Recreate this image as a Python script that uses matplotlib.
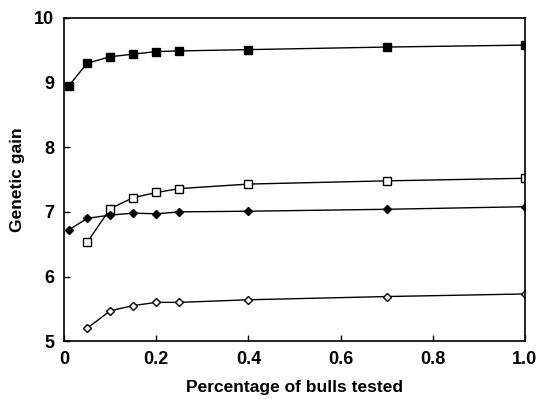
import matplotlib
matplotlib.use("Agg")
import matplotlib.pyplot as plt

x_full = [0.01, 0.05, 0.10, 0.15, 0.20, 0.25, 0.40, 0.70, 1.00]
x_part = [0.05, 0.10, 0.15, 0.20, 0.25, 0.40, 0.70, 1.00]

filled_square = [8.95, 9.30, 9.40, 9.44, 9.48, 9.49, 9.51, 9.55, 9.58]
open_square = [6.53, 7.05, 7.22, 7.30, 7.36, 7.43, 7.48, 7.52]
filled_diamond = [6.72, 6.90, 6.95, 6.98, 6.97, 7.00, 7.01, 7.04, 7.08]
open_diamond = [5.20, 5.47, 5.55, 5.60, 5.60, 5.64, 5.69, 5.73]

xticks = [0, 0.2, 0.4, 0.6, 0.8, 1.0]
xticklabels = ["0", "0.2", "0.4", "0.6", "0.8", "1.0"]
yticks = [5, 6, 7, 8, 9, 10]

plt.rcParams['font.family'] = ['Liberation Sans', 'DejaVu Sans']
fig = plt.figure(figsize=(5.39, 3.99), dpi=100)
ax = fig.add_axes([0.119, 0.145, 0.855, 0.81])

lw = 1.0
ax.plot(x_full, filled_square, color='black', lw=lw, marker='s', ms=5.5,
        mfc='black', mec='black')
ax.plot(x_part, open_square, color='black', lw=lw, marker='s', ms=5.5,
        mfc='white', mec='black', mew=1.0)
ax.plot(x_full, filled_diamond, color='black', lw=lw, marker='D', ms=4.5,
        mfc='black', mec='black')
ax.plot(x_part, open_diamond, color='black', lw=lw, marker='D', ms=4.5,
        mfc='white', mec='black', mew=1.0)

ax.set_xlim(0, 1.0)
ax.set_ylim(5, 10)
ax.set_xticks(xticks)
ax.set_xticklabels(xticklabels)
ax.set_yticks(yticks)
ax.tick_params(direction='in', length=4, width=1, labelsize=13, pad=7)
for lab in ax.get_xticklabels() + ax.get_yticklabels():
    lab.set_fontweight('bold')
for s in ax.spines.values():
    s.set_linewidth(1.2)

ax.set_xlabel("Percentage of bulls tested", fontsize=12.5, fontweight='bold', labelpad=9)
ax.set_ylabel("Genetic gain", fontsize=12.5, fontweight='bold', labelpad=7)

fig.savefig("out.png", dpi=100)
